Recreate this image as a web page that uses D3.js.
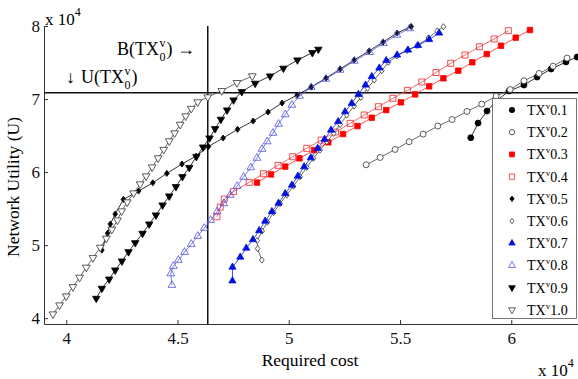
<!DOCTYPE html>
<html>
<head>
<meta charset="utf-8">
<script src="https://cdn.jsdelivr.net/npm/d3@7"></script>
<style>
  body { margin: 0; background: #fff; }
</style>
</head>
<body>
<div id="chart"></div>
<script>
// values are in units of 10^4, as on the axes
const xTicks = [4, 4.5, 5, 5.5, 6];
const yTicks = [4, 5, 6, 7, 8];
const budget0 = 4.636;   // B(TX0v)
const utility0 = 7.086;  // U(TX0v)

const labels = ['0.1', '0.2', '0.3', '0.4', '0.5', '0.6', '0.7', '0.8', '0.9', '1.0'];

const tx01 = [[5.818, 6.47], [5.851, 6.671], [5.891, 6.836], [5.935, 6.98], [5.990, 7.110], [6.057, 7.192],
  [6.116, 7.301], [6.179, 7.411], [6.246, 7.507], [6.296, 7.575]];
const tx02 = [[5.348, 6.10], [5.411, 6.20], [5.478, 6.31], [5.541, 6.415], [5.604, 6.52], [5.670, 6.63],
  [5.734, 6.72], [5.801, 6.83], [5.867, 6.93], [5.932, 7.04], [5.995, 7.13], [6.057, 7.25],
  [6.125, 7.35], [6.188, 7.45], [6.251, 7.56]];
const tx03 = [[4.857, 5.856], [4.920, 5.968], [4.984, 6.075], [5.048, 6.188], [5.114, 6.301], [5.178, 6.407],
  [5.244, 6.521], [5.309, 6.630], [5.373, 6.744], [5.438, 6.849], [5.504, 6.955], [5.568, 7.064],
  [5.631, 7.174], [5.695, 7.284], [5.762, 7.388], [5.825, 7.503], [5.890, 7.616], [5.954, 7.730],
  [6.020, 7.840], [6.084, 7.945]];
const tx04 = [[4.677, 5.388], [4.692, 5.521], [4.710, 5.630], [4.752, 5.733], [4.822, 5.859], [4.886, 5.977],
  [4.952, 6.092], [5.018, 6.210], [5.081, 6.325], [5.146, 6.438], [5.210, 6.548], [5.276, 6.667],
  [5.339, 6.781], [5.403, 6.895], [5.468, 7.010], [5.533, 7.119], [5.598, 7.233], [5.662, 7.363],
  [5.728, 7.489], [5.792, 7.603], [5.857, 7.716], [5.923, 7.822], [5.987, 7.936]];
const tx05 = [[4.160, 4.932], [4.186, 5.164], [4.198, 5.288], [4.220, 5.425], [4.257, 5.626], [4.325, 5.740],
  [4.389, 5.853], [4.452, 5.982], [4.520, 6.110], [4.584, 6.219], [4.639, 6.349], [4.705, 6.466],
  [4.770, 6.585], [4.840, 6.699], [4.907, 6.822], [4.970, 6.945], [5.038, 7.055], [5.101, 7.164],
  [5.168, 7.288], [5.231, 7.411], [5.294, 7.534], [5.361, 7.658], [5.424, 7.781], [5.487, 7.904],
  [5.550, 7.993]];
const tx06 = [[4.879, 4.795], [4.860, 4.952], [4.858, 5.062], [4.880, 5.192], [4.904, 5.315], [4.932, 5.445],
  [4.961, 5.568], [4.991, 5.685], [5.021, 5.808], [5.051, 5.936], [5.081, 6.064], [5.111, 6.188],
  [5.141, 6.301], [5.171, 6.415], [5.202, 6.530], [5.231, 6.651], [5.261, 6.781], [5.294, 6.904],
  [5.324, 7.023], [5.354, 7.147], [5.384, 7.260], [5.418, 7.388], [5.448, 7.503], [5.486, 7.589],
  [5.532, 7.664], [5.577, 7.733], [5.628, 7.836], [5.667, 7.932], [5.695, 7.990]];
const tx07 = [[4.747, 4.511], [4.747, 4.699], [4.782, 4.836], [4.809, 4.959], [4.839, 5.075], [4.867, 5.199],
  [4.894, 5.329], [4.924, 5.459], [4.954, 5.575], [4.984, 5.705], [5.014, 5.822], [5.041, 5.945],
  [5.069, 6.073], [5.099, 6.196], [5.130, 6.325], [5.161, 6.448], [5.190, 6.575], [5.222, 6.692],
  [5.253, 6.826], [5.283, 6.941], [5.313, 7.064], [5.345, 7.192], [5.373, 7.308], [5.407, 7.425],
  [5.438, 7.527], [5.487, 7.603], [5.536, 7.671], [5.581, 7.733], [5.631, 7.815], [5.676, 7.904]];
const tx08 = [[4.475, 4.452], [4.470, 4.610], [4.481, 4.712], [4.504, 4.795], [4.532, 4.904], [4.562, 5.014],
  [4.591, 5.123], [4.620, 5.233], [4.649, 5.342], [4.678, 5.459], [4.708, 5.571], [4.737, 5.685],
  [4.768, 5.808], [4.797, 5.932], [4.829, 6.062], [4.857, 6.192], [4.880, 6.315], [4.903, 6.418],
  [4.929, 6.534], [4.954, 6.658], [4.984, 6.788], [5.014, 6.918], [5.048, 7.041], [5.101, 7.160],
  [5.167, 7.274], [5.231, 7.397], [5.295, 7.521], [5.363, 7.640], [5.425, 7.763], [5.486, 7.877],
  [5.543, 7.966]];
const tx09 = [[4.135, 4.270], [4.160, 4.407], [4.193, 4.534], [4.220, 4.658], [4.250, 4.781], [4.280, 4.908],
  [4.310, 5.032], [4.343, 5.160], [4.373, 5.288], [4.403, 5.411], [4.433, 5.548], [4.463, 5.671],
  [4.493, 5.799], [4.522, 5.936], [4.553, 6.062], [4.585, 6.212], [4.615, 6.342], [4.644, 6.466],
  [4.669, 6.593], [4.695, 6.722], [4.723, 6.849], [4.752, 6.986], [4.789, 7.100], [4.849, 7.215],
  [4.916, 7.315], [4.976, 7.421], [5.039, 7.534], [5.106, 7.634], [5.133, 7.681]];
const tx10 = [[3.940, 4.055], [3.970, 4.178], [4.000, 4.301], [4.030, 4.429], [4.060, 4.558], [4.090, 4.695],
  [4.120, 4.826], [4.153, 4.968], [4.180, 5.092], [4.205, 5.215], [4.230, 5.342], [4.249, 5.466],
  [4.274, 5.589], [4.303, 5.712], [4.332, 5.836], [4.359, 5.945], [4.386, 6.068], [4.413, 6.192],
  [4.438, 6.308], [4.463, 6.425], [4.487, 6.534], [4.512, 6.651], [4.537, 6.767], [4.562, 6.870],
  [4.591, 6.959], [4.636, 7.027], [4.699, 7.114], [4.767, 7.223], [4.836, 7.315]];

const seriesData = [tx01, tx02, tx03, tx04, tx05, tx06, tx07, tx08, tx09, tx10];

// marker shapes
const diamond = {
  draw(ctx, size) {
    const r = Math.sqrt(size) / 2;
    ctx.moveTo(0, -r * 1.3);
    ctx.lineTo(r, 0);
    ctx.lineTo(0, r * 1.3);
    ctx.lineTo(-r, 0);
    ctx.closePath();
  }
};

const styles = [
  { type: d3.symbolCircle, size: 28, fill: '#000', stroke: '#000', line: '#000', rot: 0 },
  { type: d3.symbolCircle, size: 28, fill: '#fff', stroke: '#333', line: '#444', rot: 0 },
  { type: d3.symbolSquare, size: 30, fill: '#f00', stroke: '#f00', line: '#f22', rot: 0 },
  { type: d3.symbolSquare, size: 36, fill: 'none', stroke: '#e22', line: '#e44', rot: 0 },
  { type: diamond, size: 22, fill: '#000', stroke: '#000', line: '#000', rot: 0 },
  { type: diamond, size: 22, fill: '#fff', stroke: '#333', line: '#444', rot: 0 },
  { type: d3.symbolTriangle, size: 22, fill: '#0010e0', stroke: '#0010e0', line: '#1020e0', rot: 0 },
  { type: d3.symbolTriangle, size: 26, fill: 'none', stroke: '#5050e0', line: '#6060e0', rot: 0 },
  { type: d3.symbolTriangle, size: 24, fill: '#000', stroke: '#000', line: '#000', rot: 180 },
  { type: d3.symbolTriangle, size: 26, fill: '#fff', stroke: '#333', line: '#444', rot: 180 }
];

const width = 578, height = 379;
const margin = { top: 26, right: 0, bottom: 55, left: 44 };

const x = d3.scaleLinear().domain([3.9, 6.3]).range([margin.left, width - margin.right]);
const y = d3.scaleLinear().domain([3.92, 8]).range([height - margin.bottom, margin.top]);

const svg = d3.select('#chart').append('svg')
  .attr('width', width)
  .attr('height', height)
  .style('font-family', '"Liberation Serif", "Times New Roman", serif');

svg.append('defs').append('clipPath').attr('id', 'plot')
  .append('rect')
  .attr('x', margin.left).attr('y', margin.top - 6)
  .attr('width', width - margin.left).attr('height', height - margin.bottom - margin.top + 6);

// axes
const xAxis = svg.append('g')
  .attr('transform', 'translate(0,' + (height - margin.bottom) + ')')
  .call(d3.axisBottom(x).tickValues(xTicks).tickSize(-4).tickSizeOuter(0).tickPadding(8).tickFormat(d => d));

const yAxis = svg.append('g')
  .attr('transform', 'translate(' + margin.left + ',0)')
  .call(d3.axisLeft(y).tickValues(yTicks).tickSize(-4).tickSizeOuter(0).tickPadding(4).tickFormat(d => d));

[xAxis, yAxis].forEach(function (a) {
  a.attr('font-family', null).attr('font-size', null);
  a.selectAll('text').style('font-size', '17px').attr('fill', '#111');
  a.select('.domain').attr('stroke', '#333').attr('stroke-width', 1);
  a.selectAll('.tick line').attr('stroke', '#333');
});

// axis titles and multipliers
svg.append('text')
  .attr('x', 310).attr('y', 366)
  .attr('text-anchor', 'middle')
  .style('font-size', '17.5px')
  .text('Required cost');

svg.append('text')
  .attr('transform', 'translate(19,187) rotate(-90)')
  .attr('text-anchor', 'middle')
  .style('font-size', '17.5px')
  .text('Network Utility (U)');

function multiplier(px, py) {
  const t = svg.append('text').attr('x', px).attr('y', py).style('font-size', '17px');
  t.append('tspan').text('x 10');
  t.append('tspan').attr('dy', -9).style('font-size', '12px').text('4');
}
multiplier(45, 25);
multiplier(538, 376);

// reference lines
const plot = svg.append('g').attr('clip-path', 'url(#plot)');

plot.append('line')
  .attr('x1', x(budget0)).attr('x2', x(budget0))
  .attr('y1', y(8)).attr('y2', y(3.92))
  .attr('stroke', '#111').attr('stroke-width', 1.5);

plot.append('line')
  .attr('x1', x(3.9)).attr('x2', x(6.3))
  .attr('y1', y(utility0)).attr('y2', y(utility0))
  .attr('stroke', '#111').attr('stroke-width', 1.5);

// series
const line = d3.line().x(d => x(d[0])).y(d => y(d[1]));

seriesData.forEach(function (data, i) {
  const s = styles[i];
  const g = plot.append('g').attr('class', 'series');
  g.append('path')
    .attr('d', line(data))
    .attr('fill', 'none')
    .attr('stroke', s.line)
    .attr('stroke-width', 0.8);
  g.selectAll('path.mark')
    .data(data)
    .enter()
    .append('path')
    .attr('class', 'mark')
    .attr('transform', d => 'translate(' + x(d[0]) + ',' + y(d[1]) + ') rotate(' + s.rot + ')')
    .attr('d', d3.symbol().type(s.type).size(s.size))
    .attr('fill', s.fill)
    .attr('stroke', s.stroke)
    .attr('stroke-width', 0.8);
});

// annotations
function txLabel(px, py, prefix, suffix) {
  const g = svg.append('g').style('font-size', '18px');
  const a = g.append('text').attr('x', px).attr('y', py).text(prefix);
  const w = a.node().getComputedTextLength();
  g.append('text').attr('x', px + w + 0.5).attr('y', py - 8).style('font-size', '12px').text('v');
  g.append('text').attr('x', px + w + 0.5).attr('y', py + 6).style('font-size', '12px').text('0');
  g.append('text').attr('x', px + w + 7.5).attr('y', py).text(suffix);
}
txLabel(117, 55, 'B(TX', ') \u2192');
svg.append('text').attr('x', 66).attr('y', 83).style('font-size', '18px').text('\u2193');
txLabel(81, 83, 'U(TX', ')');

// legend
const legend = svg.append('g');
legend.append('rect')
  .attr('x', 492.5).attr('y', 98.5)
  .attr('width', 84).attr('height', 220)
  .attr('fill', '#fff')
  .attr('stroke', '#555')
  .attr('stroke-width', 0.8);

labels.forEach(function (lab, i) {
  const s = styles[i];
  const ly = 110 + i * 22.2;
  legend.append('path')
    .attr('transform', 'translate(512,' + ly + ') rotate(' + s.rot + ')')
    .attr('d', d3.symbol().type(s.type).size(s.size * 0.8))
    .attr('fill', s.fill)
    .attr('stroke', s.stroke)
    .attr('stroke-width', 0.8);
  const t = legend.append('text')
    .attr('x', 527).attr('y', ly + 5)
    .style('font-size', '14px');
  t.append('tspan').text('TX');
  t.append('tspan').attr('dy', -6).style('font-size', '9px').text('v');
  t.append('tspan').attr('dy', 6).text(lab);
});
</script>
</body>
</html>
